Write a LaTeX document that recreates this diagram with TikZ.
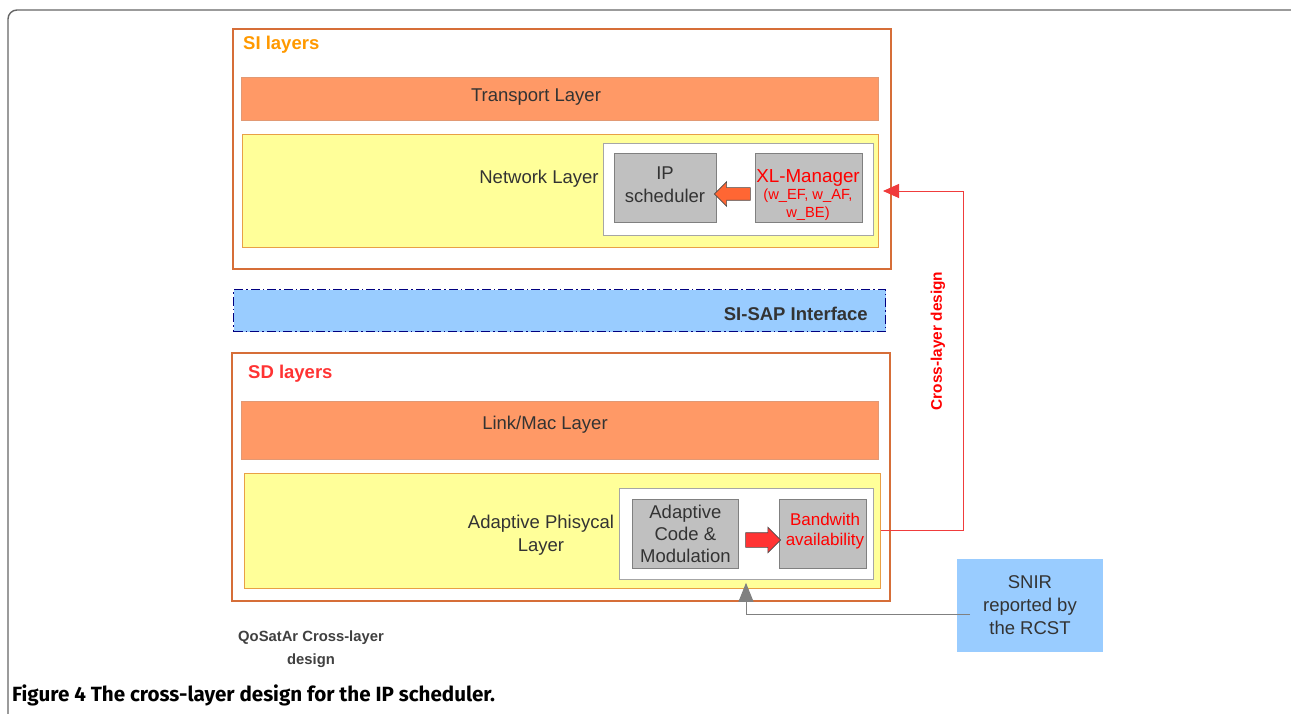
\documentclass[tikz,border=0pt]{standalone}
\usepackage{fontspec}
\setmainfont{Liberation Sans}
\newfontfamily\capfont{Fira Sans}
\usetikzlibrary{positioning,arrows.meta,shapes.arrows}

\definecolor{siframe}{RGB}{214,110,56}
\definecolor{silabel}{RGB}{255,153,0}
\definecolor{sdlabel}{RGB}{255,51,51}
\definecolor{salmon}{RGB}{255,153,102}
\definecolor{lightyellow}{RGB}{255,255,153}
\definecolor{yellowline}{RGB}{232,160,70}
\definecolor{boxgray}{RGB}{192,192,192}
\definecolor{skyblue}{RGB}{153,204,255}
\definecolor{txtgray}{RGB}{51,51,51}
\definecolor{redtext}{RGB}{255,0,0}
\definecolor{redline}{RGB}{240,60,60}
\definecolor{arroworange}{RGB}{255,102,51}
\definecolor{arrowred}{RGB}{255,51,51}

\begin{document}
\begin{tikzpicture}[x=1pt,y=-1pt,
  every node/.style={inner sep=0pt, text=txtgray,
    font=\fontsize{18.5}{23}\selectfont},
  frame/.style={draw=siframe, line width=1.6pt, anchor=north west},
  layerbar/.style={draw=siframe!70, fill=salmon, line width=0.6pt, anchor=north west},
  yellowbox/.style={draw=yellowline, fill=lightyellow, line width=1pt, anchor=north west},
  whitebox/.style={draw=gray!70, fill=white, line width=0.8pt, anchor=north west},
  graybox/.style={draw=gray, fill=boxgray, line width=0.8pt, anchor=north west, align=center},
  layertext/.style={align=center},
  boldlabel/.style={font=\bfseries\fontsize{18.5}{23}\selectfont},
  blockarrow/.style={single arrow, draw=black!70, line width=0.6pt,
    single arrow head extend=6pt, inner sep=6pt, minimum height=36pt},
  crossline/.style={draw=redline, line width=0.9pt,
    -{Triangle[length=16pt,width=14pt]}},
  snirline/.style={draw=gray, line width=1pt,
    -{Triangle[length=19pt,width=15pt]}}]
\useasboundingbox (0,0) rectangle (1291,714);

% outer frame of the figure
\draw[black!60, line width=1.4pt, rounded corners=9pt] (8,760) |- (1320,10);

% SI layers
\node[frame, minimum width=658, minimum height=240] (si) at (232,28) {};
\node[boldlabel, text=silabel, anchor=base west] (silab) at (243,50) {SI layers};
\node[layerbar, minimum width=637, minimum height=43] (transport) at (241,77) {};
\node[layertext] (transporttxt) at (536,97) {Transport Layer};
\node[yellowbox, minimum width=636, minimum height=113] (network) at (242,134) {};
\node[layertext] (networktxt) at (539,179) {Network Layer};
\node[whitebox, minimum width=270, minimum height=92] (netinner) at (603,143) {};
\node[graybox, minimum width=102, minimum height=69] (ip) at (614,153) {};
\node[align=center] (iptxt) at (665,185) {IP\\scheduler};
\node[graybox, minimum width=107, minimum height=69] (xl) at (755,153) {};
\node[align=center, text=redtext, font=\fontsize{14.7}{17.5}\selectfont] (xltxt) at (808,195)
  {{\fontsize{18.8}{20.5}\selectfont XL-Manager}\\(w\_EF, w\_AF,\\w\_BE)};
\node[blockarrow, fill=arroworange, shape border rotate=180] (xlarrow) at (735.5,194) {};

% SI-SAP interface
\node[draw=blue!50!black, dash pattern=on 9pt off 3pt on 1.5pt off 3pt, line width=1.2pt,
  fill=skyblue, anchor=north west, minimum width=652, minimum height=42] (sap) at (233,289) {};
\node[boldlabel, anchor=east] (saptxt) at (868,314) {SI-SAP Interface};

% SD layers
\node[frame, minimum width=658, minimum height=248] (sd) at (231,352) {};
\node[boldlabel, text=sdlabel, anchor=base west] (sdlab) at (248,378) {SD layers};
\node[layerbar, minimum width=637, minimum height=58] (link) at (241,401) {};
\node[layertext] (linktxt) at (545,425) {Link/Mac Layer};
\node[yellowbox, minimum width=636, minimum height=115] (aphy) at (244,473) {};
\node[layertext] (aphytxt) at (541,535) {Adaptive Phisycal\\Layer};
\node[whitebox, minimum width=254, minimum height=91] (phyinner) at (619,488) {};
\node[graybox, minimum width=106, minimum height=69, font=\fontsize{18.5}{22}\selectfont]
  (acm) at (632,499) {Adaptive\\Code \&\\Modulation};
\node[graybox, minimum width=87, minimum height=69] (bw) at (779,499) {};
\node[align=center, text=redtext, font=\fontsize{17}{20}\selectfont] (bwtxt) at (825,531)
  {Bandwith\\availability};
\node[blockarrow, fill=arrowred, inner sep=7pt, single arrow head extend=5.5pt,
  minimum height=35pt] (bwarrow) at (759.5,540) {};

% cross-layer loop
\draw[crossline] (aphy.east |- 0,530) -- (963,530) |- ([xshift=4pt]network.east |- 0,191);
\node[rotate=90, text=redtext, font=\bfseries\fontsize{15.4}{18}\selectfont] (crosstxt)
  at (938,341) {Cross-layer design};

% SNIR report
\node[fill=skyblue, anchor=north west, minimum width=146, minimum height=93] (snir)
  at (957,559) {};
\node[align=center] (snirtxt) at (1030,605) {SNIR\\reported by\\the RCST};
\draw[snirline] ([xshift=13pt]snir.west |- 0,614) -| ([yshift=-3pt]phyinner.south -| 746,0);

% captions
\node[align=center, text=black!75, font=\bfseries\fontsize{14.8}{23}\selectfont] (qos)
  at (311,649) {QoSatAr Cross-layer\\design};
\node[anchor=base west, text=black, font=\capfont\bfseries\fontsize{20.6}{24}\selectfont]
  (fig) at (12,701) {Figure 4 The cross-layer design for the IP scheduler.};
\end{tikzpicture}
\end{document}
